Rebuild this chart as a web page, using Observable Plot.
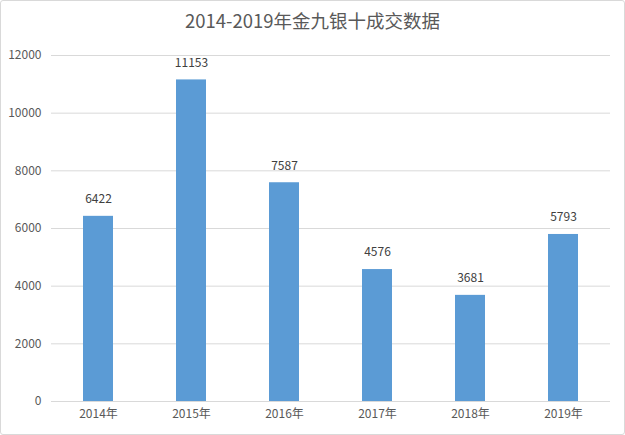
<!DOCTYPE html>
<html>
<head>
<meta charset="utf-8">
<script src="https://cdn.jsdelivr.net/npm/d3@7"></script>
<script src="https://cdn.jsdelivr.net/npm/@observablehq/plot@0.6"></script>
<style>
  html, body { margin: 0; padding: 0; background: #fff; }
  #chart {
    position: relative;
    width: 623px; height: 433px;
    border: 1px solid #d9d9d9;
    border-radius: 3px;
    background: #fff;
    font-family: "Noto Sans CJK SC", "Open Sans", sans-serif;
  }
  #title {
    position: absolute; left: 0; top: 6px; width: 100%;
    text-align: center; font-size: 18.5px; color: #595959;
  }
  #plot { position: absolute; left: 0; top: 36px; }
</style>
</head>
<body>
<div id="chart">
  <div id="title">2014-2019年金九银十成交数据</div>
  <div id="plot"></div>
</div>
<script>
const years = ["2014年", "2015年", "2016年", "2017年", "2018年", "2019年"];
const values = [6422, 11153, 7587, 4576, 3681, 5793];
const yTicks = [0, 2000, 4000, 6000, 8000, 10000, 12000];

const data = years.map((y, i) => ({year: y, value: values[i]}));

const chart = Plot.plot({
  width: 623,
  height: 394,
  marginTop: 18,
  marginBottom: 30,
  marginLeft: 50,
  marginRight: 14,
  style: {fontFamily: "'Noto Sans CJK SC', 'Open Sans', sans-serif", fontSize: "12px", color: "#595959", background: "transparent"},
  x: {domain: years, paddingInner: 0.68, paddingOuter: 0.34, label: null, tickSize: 0, tickPadding: 8},
  y: {domain: [0, 12000], ticks: yTicks, label: null, tickSize: 0, tickPadding: 10, tickFormat: d => String(d)},
  marks: [
    Plot.gridY(yTicks, {stroke: "#d9d9d9", strokeOpacity: 1, strokeWidth: 1}),
    Plot.barY(data, {x: "year", y: "value", fill: "#5b9bd5"}),
    Plot.text(data, {x: "year", y: "value", text: d => String(d.value), dy: -17, fill: "#404040", fontSize: 12}),
    Plot.ruleY([0], {stroke: "#d9d9d9"})
  ]
});
document.getElementById("plot").appendChild(chart);
</script>
</body>
</html>
